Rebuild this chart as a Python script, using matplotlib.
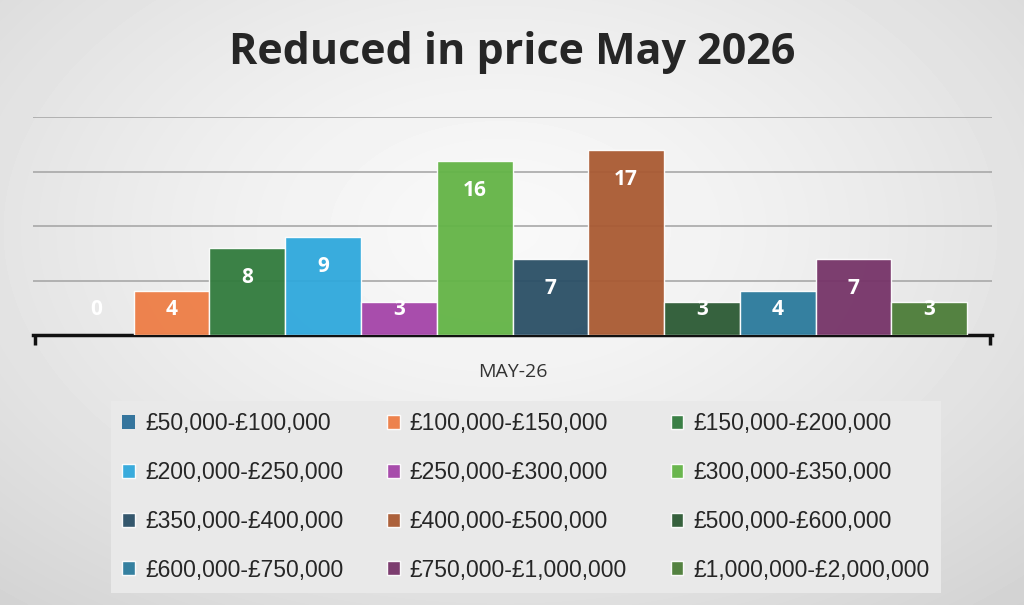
import numpy as np
import matplotlib
matplotlib.use("Agg")
import matplotlib.pyplot as plt

# data
bands = ['£50,000-£100,000', '£100,000-£150,000', '£150,000-£200,000',
         '£200,000-£250,000', '£250,000-£300,000', '£300,000-£350,000',
         '£350,000-£400,000', '£400,000-£500,000', '£500,000-£600,000',
         '£600,000-£750,000', '£750,000-£1,000,000', '£1,000,000-£2,000,000']
counts = [0, 4, 8, 9, 3, 16, 7, 17, 3, 4, 7, 3]
category = 'MAY-26'
title = 'Reduced in price May 2026'

colors = ['#2b6f99', '#ee7d45', '#317b3d', '#2fa8dc', '#a444a8', '#63b446',
          '#2a4f66', '#a95a32', '#2c5a34', '#2b7a9c', '#763468', '#4c7d38']

fig = plt.figure(figsize=(10.24, 6.05), dpi=100)

# soft radial background
bg = fig.add_axes([0, 0, 1, 1], zorder=-10)
yy, xx = np.mgrid[0:605, 0:1024]
r = np.sqrt(((xx - 500) / 700.0) ** 2 + ((yy - 230) / 450.0) ** 2)
shade = np.clip(0.975 - 0.13 * r ** 1.4, 0.82, 1)
bg.imshow(shade, cmap='gray', vmin=0, vmax=1, aspect='auto')
bg.axis('off')

ax = fig.add_axes([33 / 1024, 1 - 335 / 605, 959 / 1024, 218 / 605])
ax.patch.set_alpha(0)

x = np.arange(len(counts))
handles = []
for i in range(len(counts)):
    b = ax.bar(x[i], counts[i], width=1.0, color=colors[i], alpha=0.95,
               edgecolor='white', linewidth=1 if counts[i] else 0,
               label=bands[i], zorder=3)
    handles.append(b)
    ypos = max(counts[i] - 2.75, 2.3)
    ax.text(x[i], ypos, str(counts[i]), ha='center', va='center',
            color='white', fontsize=15, fontweight='bold',
            family='Open Sans', zorder=5)

for g in [5, 10, 15, 20]:
    ax.axhline(g, color='#a8a8a8', lw=1.2, zorder=1)

ax.set_ylim(0, 20)
xmin, xmax = -0.5 - 0.33, 11.5 + 0.33
ax.set_xlim(xmin, xmax)
ax.set_yticks([])
for s in ['top', 'right', 'left']:
    ax.spines[s].set_visible(False)
ax.spines['bottom'].set_linewidth(2.5)
ax.spines['bottom'].set_color('#111111')
ax.set_xticks([xmin + 0.02, xmax - 0.02])
ax.set_xticklabels(['', ''])
ax.tick_params(axis='x', which='major', length=7, width=2.5, color='#111111')
ax.set_xticks([(xmin + xmax) / 2], minor=True)
ax.set_xticklabels([category], minor=True, fontsize=14, color='#333333',
                   family='Open Sans')
ax.tick_params(axis='x', which='minor', length=0, pad=20)

fig.text(512 / 1024, 1 - 52 / 605, title, ha='center', va='center',
         fontsize=31, fontweight='bold', color='#262626', family='Open Sans')

# legend, filled row by row like the original
order = [r * 3 + c for c in range(3) for r in range(4)]
leg = fig.legend([handles[k] for k in order], [bands[k] for k in order],
                 ncol=3, loc='center', bbox_to_anchor=(526 / 1024, 1 - 497 / 605),
                 frameon=True, fancybox=False, facecolor='#e9e9e9',
                 edgecolor='none', framealpha=1,
                 prop={'family': 'Liberation Sans', 'size': 16.5},
                 handlelength=0.55, handleheight=0.55, handletextpad=0.45,
                 columnspacing=1.9, labelspacing=1.12, borderpad=0.5)
for t in leg.get_texts():
    t.set_color('#262626')

fig.savefig('out.png', dpi=100)
